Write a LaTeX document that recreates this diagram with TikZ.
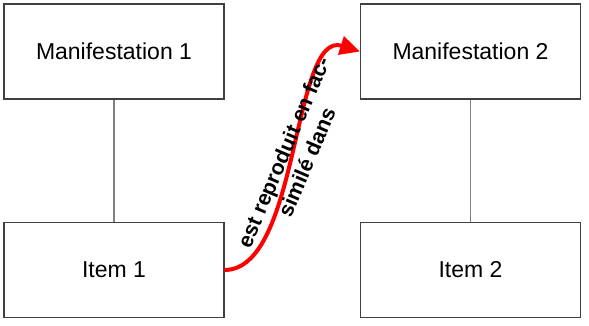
\documentclass[tikz,border=0pt]{standalone}
\usepackage{fontspec}
\setmainfont{Liberation Sans}
\usetikzlibrary{arrows.meta}
\definecolor{boxline}{RGB}{64,64,64}
\definecolor{linkgray}{RGB}{128,128,128}
\tikzset{
  frbox/.style={draw=boxline, line width=0.8pt, minimum width=165pt, minimum height=71.25pt, inner sep=0pt, font=\fontsize{17.25}{20}\selectfont},
  frlink/.style={draw=linkgray, line width=0.8pt},
  frrel/.style={draw=red, line width=3pt, -{Triangle[length=15pt, width=14pt]}},
  frlabel/.style={font=\bfseries\fontsize{16}{19}\selectfont, align=center, rotate=67, inner sep=0pt},
}
\begin{document}
\begin{tikzpicture}[x=0.75pt, y=0.75pt]
\useasboundingbox (0,0) rectangle (589,325);
\node[frbox] (man1) at (114,273.5) {Manifestation 1};
\node[frbox] (item1) at (114,55) {Item 1};
\node[frbox] (man2) at (470.5,273.5) {Manifestation 2};
\node[frbox] (item2) at (470.5,55) {Item 2};
\draw[frlink] (man1) -- (item1);
\draw[frlink] (man2) -- (item2);
\draw[frrel] (item1.east) .. controls (300,55) and (292,295) .. (man2.west);
\node[frlabel] (rel) at (295,168) {est reproduit en fac-\\simil\'e dans};
\end{tikzpicture}
\end{document}
